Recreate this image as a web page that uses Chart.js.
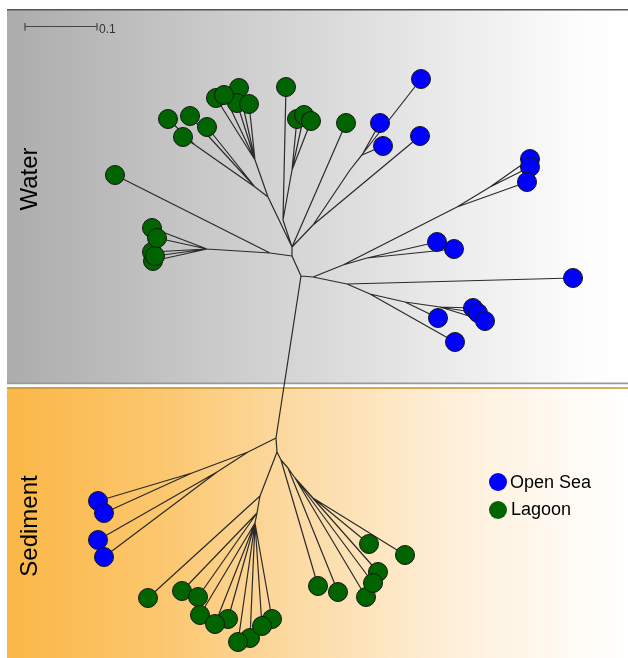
<!DOCTYPE html>
<html>
<head>
<meta charset="utf-8">
<script src="https://cdn.jsdelivr.net/npm/chart.js@4"></script>
<style>
  html, body { margin: 0; padding: 0; background: #ffffff; }
  #wrap { position: relative; width: 628px; height: 658px; overflow: hidden; }
  canvas { position: absolute; left: 0; top: 0; }
  .lbl { position: absolute; font-family: "Liberation Sans", Arial, sans-serif; color: #000; white-space: nowrap; line-height: 1; }
  .rot { transform: translate(-50%, -50%) rotate(-90deg); font-size: 24px; }
  .leg { font-size: 18px; transform: translateY(-50%); }
  .dot { position: absolute; width: 18px; height: 18px; border-radius: 50%; transform: translate(-50%, -50%); }
</style>
</head>
<body>
<div id="wrap">
  <canvas id="c" width="628" height="658"></canvas>
  <div class="lbl rot" style="left:29px; top:179px;">Water</div>
  <div class="lbl rot" style="left:29px; top:526px;">Sediment</div>
  <div class="dot" style="left:498px; top:482px; background:#0000ff;"></div>
  <div class="lbl leg" style="left:510px; top:482px;">Open Sea</div>
  <div class="dot" style="left:498px; top:510px; background:#006400;"></div>
  <div class="lbl leg" style="left:511px; top:509px;">Lagoon</div>
  <div class="lbl" style="left:99px; top:23px; font-size:12px; color:#333;">0.1</div>
</div>
<script>
// ---- Data (tree layout coordinates) ----
const groups = ['Open Sea', 'Lagoon'];
const panels = ['Water', 'Sediment'];
const scaleBarLabel = '0.1';

// internal nodes: x, y, parent index (-1 = root)
const innerX = [301, 292, 292, 270, 313, 276, 268, 255, 195, 255, 283, 292, 313, 350, 362, 207, 343, 457, 490, 367, 347, 370, 405, 440, 248, 192, 217, 277, 260, 257, 255, 281, 288, 295, 313];
const innerY = [276, 256, 247, 253, 277, 438, 197, 187, 145, 160, 220, 170, 225, 170, 155, 249, 265, 207, 187, 258, 284, 294, 302, 307, 452, 473, 472, 452, 496, 513, 523, 460, 468, 478, 498];
const innerParent = [-1, 0, 1, 1, 0, 0, 2, 6, 7, 6, 2, 10, 2, 12, 13, 3, 4, 16, 17, 16, 4, 20, 21, 22, 5, 24, 24, 5, 27, 28, 29, 27, 31, 32, 33];

// leaves: x, y, parent internal node, habitat group
const leafX = [168, 183, 190, 207, 216, 239, 237, 224, 249, 286, 297, 304, 311, 346, 115, 152, 153, 152, 155, 157,
               421, 380, 383, 420, 530, 530, 527, 437, 454, 573, 473, 478, 485, 438, 455,
               98, 104, 98, 104,
               148, 182, 198, 200, 228, 215, 250, 238, 272, 262, 318, 338, 366, 378, 373, 369, 405];
const leafY = [119, 137, 116, 127, 98, 88, 103, 95, 104, 87, 119, 115, 121, 123, 175, 228, 261, 252, 256, 238,
               79, 123, 146, 136, 159, 167, 182, 242, 249, 278, 308, 313, 321, 318, 342,
               501, 513, 540, 557,
               598, 591, 597, 615, 619, 624, 638, 642, 619, 626, 586, 592, 597, 572, 583, 544, 555];
const leafParent = [8, 8, 7, 7, 9, 9, 9, 9, 9, 10, 11, 11, 11, 2, 3, 15, 15, 15, 15, 15,
                    13, 14, 14, 12, 18, 18, 17, 19, 19, 20, 23, 23, 23, 22, 21,
                    25, 25, 26, 26,
                    28, 29, 29, 30, 30, 30, 30, 30, 30, 30, 31, 32, 33, 33, 33, 34, 34];
const leafGroup = ['Lagoon','Lagoon','Lagoon','Lagoon','Lagoon','Lagoon','Lagoon','Lagoon','Lagoon','Lagoon','Lagoon','Lagoon','Lagoon','Lagoon','Lagoon','Lagoon','Lagoon','Lagoon','Lagoon','Lagoon',
                   'Open Sea','Open Sea','Open Sea','Open Sea','Open Sea','Open Sea','Open Sea','Open Sea','Open Sea','Open Sea','Open Sea','Open Sea','Open Sea','Open Sea','Open Sea',
                   'Open Sea','Open Sea','Open Sea','Open Sea',
                   'Lagoon','Lagoon','Lagoon','Lagoon','Lagoon','Lagoon','Lagoon','Lagoon','Lagoon','Lagoon','Lagoon','Lagoon','Lagoon','Lagoon','Lagoon','Lagoon','Lagoon'];

// ---- Build datasets ----
const edges = [];
function addEdge(px, py, cx, cy) {
  edges.push({x: px, y: py}, {x: cx, y: cy}, {x: cx, y: null});
}
innerX.forEach((x, i) => {
  const p = innerParent[i];
  if (p >= 0) addEdge(innerX[p], innerY[p], x, innerY[i]);
});
leafX.forEach((x, i) => {
  const p = leafParent[i];
  addEdge(innerX[p], innerY[p], x, leafY[i]);
});
const groupColors = {'Open Sea': '#0000ff', 'Lagoon': '#006400'};
const leafSets = groups.map(g => ({
  label: g,
  data: leafX.map((x, i) => ({x: x, y: leafY[i], g: leafGroup[i]})).filter(d => d.g === g),
  backgroundColor: groupColors[g],
  borderColor: '#151515',
  borderWidth: 1,
  pointRadius: 9.5,
  pointHoverRadius: 9.5,
  showLine: false,
  order: 1
}));

const bgPlugin = {
  id: 'panels',
  beforeDatasetsDraw(chart) {
    const {ctx, scales: {x, y}} = chart;
    const X = v => x.getPixelForValue(v), Y = v => y.getPixelForValue(v);
    ctx.save();
    // Water panel
    let g = ctx.createLinearGradient(X(7), 0, X(628), 0);
    g.addColorStop(0, '#acacac');
    g.addColorStop(0.4, '#d0d0d0');
    g.addColorStop(0.7, '#eaeaea');
    g.addColorStop(0.93, '#fdfdfd');
    g.addColorStop(1, '#ffffff');
    ctx.fillStyle = g;
    ctx.fillRect(X(7), Y(10), X(628) - X(7), Y(383) - Y(10));
    // Sediment panel
    g = ctx.createLinearGradient(X(7), 0, X(628), 0);
    g.addColorStop(0, '#fbb747');
    g.addColorStop(0.25, '#fbc76e');
    g.addColorStop(0.45, '#fcd9a0');
    g.addColorStop(0.7, '#feeed6');
    g.addColorStop(0.9, '#fffaf3');
    g.addColorStop(1, '#ffffff');
    ctx.fillStyle = g;
    ctx.fillRect(X(7), Y(387), X(628) - X(7), Y(658) - Y(387));
    // borders
    ctx.fillStyle = '#555555';
    ctx.fillRect(X(7), Y(9), X(628) - X(7), 1.5);
    ctx.fillStyle = '#999999';
    ctx.fillRect(X(7), Y(382.5), X(628) - X(7), 2);
    ctx.fillStyle = '#ffffff';
    ctx.fillRect(X(7), Y(384.5), X(628) - X(7), 2.5);
    ctx.fillStyle = '#c3943a';
    ctx.fillRect(X(7), Y(387.3), X(628) - X(7), 1.5);
    // scale bar
    ctx.strokeStyle = '#444';
    ctx.lineWidth = 1.2;
    ctx.beginPath();
    ctx.moveTo(X(25), Y(26.5)); ctx.lineTo(X(97), Y(26.5));
    ctx.moveTo(X(25), Y(23)); ctx.lineTo(X(25), Y(30.5));
    ctx.moveTo(X(97), Y(23)); ctx.lineTo(X(97), Y(30.5));
    ctx.stroke();
    ctx.restore();
  }
};

new Chart(document.getElementById('c'), {
  type: 'scatter',
  data: {
    datasets: [
      ...leafSets,
      {
        label: 'branches',
        data: edges,
        showLine: true,
        spanGaps: false,
        borderColor: '#2a2a2a',
        borderWidth: 1.2,
        pointRadius: 0,
        pointHoverRadius: 0,
        fill: false,
        order: 2
      }
    ]
  },
  options: {
    responsive: false,
    animation: false,
    events: [],
    layout: { padding: 0, autoPadding: false },
    plugins: { legend: { display: false }, tooltip: { enabled: false } },
    scales: {
      x: { type: 'linear', min: 0, max: 628, display: false },
      y: { type: 'linear', min: 0, max: 658, reverse: true, display: false }
    }
  },
  plugins: [bgPlugin]
});
</script>
</body>
</html>
